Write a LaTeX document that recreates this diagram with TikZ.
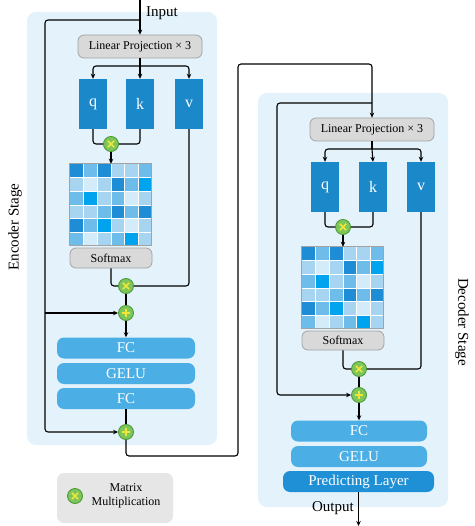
\documentclass[tikz,border=0pt]{standalone}
\usepackage{fontspec}
\setmainfont{Liberation Serif}
\usetikzlibrary{arrows.meta}
\definecolor{panel}{HTML}{E4F2FB}
\definecolor{gfill}{HTML}{D9D9D9}
\definecolor{gline}{HTML}{A3A3A3}
\definecolor{qkvc}{HTML}{1B88CA}
\definecolor{fcc}{HTML}{4BAFE6}
\definecolor{predc}{HTML}{1F90D6}
\definecolor{opg}{HTML}{7CC65A}
\definecolor{opd}{HTML}{4E9A3A}
\definecolor{opy}{HTML}{F2E53A}
\definecolor{legc}{HTML}{E6E6E6}
\definecolor{mcD}{HTML}{1F8DD6}
\definecolor{mcM}{HTML}{6DBCEA}
\definecolor{mcL}{HTML}{A7D4F1}
\definecolor{mcW}{HTML}{D4EBF9}
\definecolor{mcB}{HTML}{00A3EE}
\newcommand{\drawmat}[1]{%
  \begin{scope}[shift={(#1.north west)}]
    \foreach \row [count=\i from 0] in {{D,M,D,L,L,M},{L,W,L,D,M,B},{M,B,L,M,W,L},{L,L,M,D,M,D},{D,M,B,L,W,L},{M,W,L,M,B,L}}{
      \foreach \cc [count=\j from 0] in \row {
        \fill[mc\cc] (\j*13.667,\i*13.667) rectangle ++(13.667,13.667);
      }
    }
    \foreach \k in {1,...,5}{
      \draw[white,line width=0.6pt] (\k*13.667,0) -- (\k*13.667,82);
      \draw[white,line width=0.6pt] (0,\k*13.667) -- (82,\k*13.667);
    }
    \draw[gline,line width=0.8pt] (0,0) rectangle (82,82);
  \end{scope}}
\begin{document}
\begin{tikzpicture}[x=1pt,y=-1pt,
  conn/.style={line width=1.1pt, rounded corners=3pt},
  arr/.style={conn, -{Stealth[length=5pt,width=4.5pt]}},
  gbox/.style={draw=gline, fill=gfill, line width=0.8pt, rounded corners=6pt, inner sep=0pt, font=\fontsize{12}{14}\selectfont},
  qkv/.style={fill=qkvc, text=white, font=\fontsize{16}{18}\selectfont, minimum width=28pt, minimum height=50pt, inner sep=0pt},
  fcbox/.style={fill=fcc, rounded corners=7pt, text=white, font=\fontsize{15}{17}\selectfont, minimum width=138pt, minimum height=21pt, inner sep=0pt},
  op/.style={circle, fill=opg, draw=opd, line width=0.9pt, minimum size=15pt, inner sep=0pt},
  mul/.style={op, path picture={
     \draw[opy,line width=1.5pt] ([shift={(-3.2,-3.2)}]path picture bounding box.center) -- ([shift={(3.2,3.2)}]path picture bounding box.center);
     \draw[opy,line width=1.5pt] ([shift={(-3.2,3.2)}]path picture bounding box.center) -- ([shift={(3.2,-3.2)}]path picture bounding box.center);}},
  add/.style={op, path picture={
     \draw[opy,line width=1.5pt] ([shift={(-4.2,0)}]path picture bounding box.center) -- ([shift={(4.2,0)}]path picture bounding box.center);
     \draw[opy,line width=1.5pt] ([shift={(0,-4.2)}]path picture bounding box.center) -- ([shift={(0,4.2)}]path picture bounding box.center);}},
  lbl/.style={font=\fontsize{15}{17}\selectfont, inner sep=0pt},
  stage/.style={font=\fontsize{15}{17}\selectfont, inner sep=0pt}
]
\useasboundingbox (0,0) rectangle (474,526);

% panels
\fill[panel, rounded corners=9pt] (27,12) rectangle (217,445);
\fill[panel, rounded corners=9pt] (258,93) rectangle (448,507);

% labels
\node[stage, rotate=90] (enc) at (15,227) {Encoder Stage};
\node[stage, rotate=-90] (dec) at (462,322) {Decoder Stage};
\node[lbl, anchor=west] (inputlbl) at (146,13) {Input};
\node[lbl, anchor=east] (outputlbl) at (354,508) {Output};

% ===== Encoder =====
\coordinate (in) at (140,0);
\node[gbox, minimum width=124pt, minimum height=23pt] (lp1) at (140,46.5) {Linear Projection × 3};
\node[qkv] (q1) at (93,104) {q};
\node[qkv] (k1) at (140,104) {k};
\node[qkv] (v1) at (189,104) {v};
\node[mul] (m1) at (111,144) {};
\node[minimum width=82pt, minimum height=82pt, inner sep=0pt] (mat1) at (111,205) {};
\drawmat{mat1}
\node[gbox, minimum width=82pt, minimum height=20pt] (sm1) at (111,258) {Softmax};
\node[mul] (m2) at (126,286) {};
\node[add] (p1) at (126,313) {};
\node[fcbox] (fc1) at (126,348) {FC};
\node[fcbox] (gelu1) at (126,373.5) {GELU};
\node[fcbox] (fc2) at (126,398.5) {FC};
\node[add] (p2) at (126,432) {};

\draw[arr] (in) -- (lp1.north);
\coordinate (b1) at (140,66);
\draw[conn] (lp1.south) -- (b1);
\draw[arr] (b1) -| (q1.north);
\draw[arr] (b1) -- (k1.north);
\draw[arr] (b1) -| (v1.north);
\draw[conn] (q1.south) |- (m1.west);
\draw[conn] (k1.south) |- (m1.east);
\draw[arr] (m1.south) -- (mat1.north);
\draw[conn] (sm1.south) |- (m2.west);
\draw[conn] (v1.south) |- (m2.east);
\draw[conn] (m2.south) -- (p1.north);
\draw[arr] (p1.south) -- (fc1.north);
\draw[conn] (fc2.south) -- (p2.north);
\coordinate (s1) at (140,20);
\coordinate (s1l) at (45,313);
\draw[arr] (s1) -| (s1l) |- (p2.west);
\draw[arr] (s1l) -- (p1.west);

% link encoder -> decoder
\node[gbox, minimum width=124pt, minimum height=23pt] (lp2) at (372,129.5) {Linear Projection × 3};
\coordinate (c1) at (238,456);
\coordinate (c2) at (238,64);
\coordinate (c3) at (372,64);
\draw[arr] (p2.south) |- (c1) -- (c2) -- (c3) -- (lp2.north);

% ===== Decoder =====
\node[qkv] (q2) at (325,187) {q};
\node[qkv] (k2) at (373,187) {k};
\node[qkv] (v2) at (421,187) {v};
\node[mul] (m3) at (343,227) {};
\node[minimum width=82pt, minimum height=82pt, inner sep=0pt] (mat2) at (343,288) {};
\drawmat{mat2}
\node[gbox, minimum width=82pt, minimum height=19pt] (sm2) at (343,340.5) {Softmax};
\node[mul] (m4) at (359,369) {};
\node[add] (p3) at (359,395) {};
\node[fcbox, minimum width=136pt] (fc3) at (359,431) {FC};
\node[fcbox, minimum width=136pt] (gelu2) at (359,456.5) {GELU};
\node[fcbox, fill=predc, minimum width=151pt] (pred) at (358.5,481.5) {Predicting Layer};
\coordinate (out) at (358.5,526);

\coordinate (b2) at (372,149);
\draw[conn] (lp2.south) -- (b2);
\draw[arr] (b2) -| (q2.north);
\draw[arr] (b2) -- (k2.north);
\draw[arr] (b2) -| (v2.north);
\draw[conn] (q2.south) |- (m3.west);
\draw[conn] (k2.south) |- (m3.east);
\draw[arr] (m3.south) -- (mat2.north);
\draw[conn] (sm2.south) |- (m4.west);
\draw[conn] (v2.south) |- (m4.east);
\draw[conn] (m4.south) -- (p3.north);
\draw[arr] (p3.south) -- (fc3.north);
\draw[arr] (pred.south) -- (out);
\coordinate (s2) at (372,103);
\draw[arr] (s2) -| (277,395) -- (p3.west);

% legend
\fill[legc, rounded corners=7pt] (57,473) rectangle (173,523);
\node[mul] (lg) at (75,496) {};
\node[font=\fontsize{12}{14}\selectfont, align=center, inner sep=0pt] (lgt) at (126,496) {Matrix\\Multiplication};
\end{tikzpicture}
\end{document}
